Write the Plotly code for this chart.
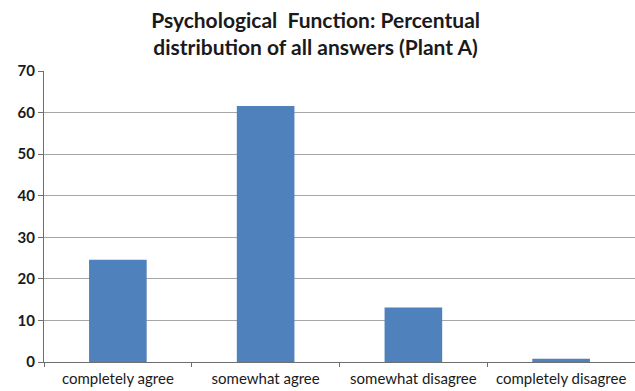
import plotly.graph_objects as go

categories = ["completely agree", "somewhat agree", "somewhat disagree", "completely disagree"]
percentages = [24.6, 61.6, 13.1, 0.8]
y_ticks = [0, 10, 20, 30, 40, 50, 60, 70]

fig = go.Figure(
    go.Bar(
        x=categories,
        y=percentages,
        marker=dict(color="#4f81bd", line=dict(width=0)),
        width=0.39,
    )
)

fig.update_layout(
    width=635,
    height=391,
    margin=dict(l=44, r=0, t=71, b=29),
    paper_bgcolor="white",
    plot_bgcolor="white",
    showlegend=False,
    title=dict(
        text="<b>Psychological  Function: Percentual<br>distribution of all answers (Plant A)</b>",
        x=0.497,
        xanchor="center",
        y=0.928,
        yanchor="middle",
        font=dict(family="Lato", size=21, color="#1a1a1a"),
    ),
    font=dict(family="Lato", color="#1a1a1a"),
)

fig.update_yaxes(
    range=[0, 70],
    tickvals=y_ticks,
    ticktext=[f"<b>{v}</b>" for v in y_ticks],
    showgrid=True,
    gridcolor="#a6a6a6",
    gridwidth=1,
    showline=True,
    linecolor="#6f6f6f",
    linewidth=1,
    ticks="outside",
    ticklen=5,
    tickcolor="#6f6f6f",
    tickfont=dict(family="Lato", size=15, color="#1a1a1a"),
    zeroline=False,
)

fig.update_xaxes(
    showline=True,
    linecolor="#6f6f6f",
    linewidth=1,
    ticks="outside",
    ticklen=4,
    tickcolor="#6f6f6f",
    tickson="boundaries",
    ticklabelstandoff=3,
    tickfont=dict(family="Lato", size=15, color="#1a1a1a"),
    showgrid=False,
)

fig.write_html("out.html")
